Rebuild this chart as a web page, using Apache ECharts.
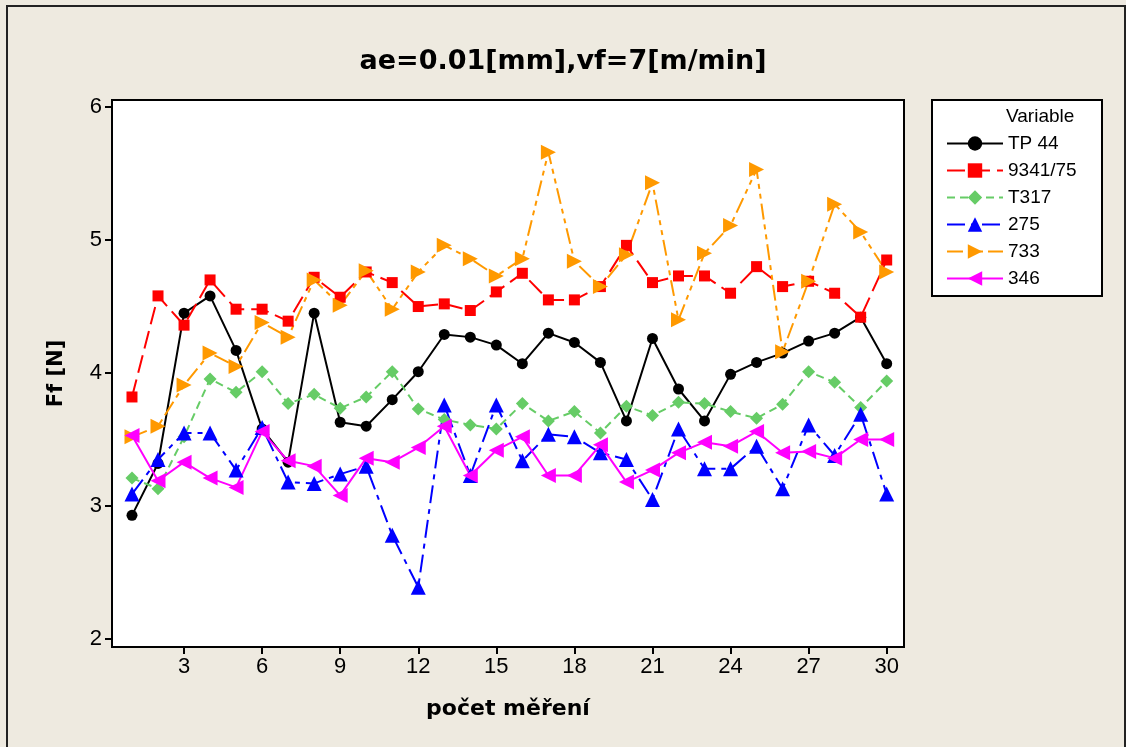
<!DOCTYPE html>
<html>
<head>
<meta charset="utf-8">
<script src="https://cdn.jsdelivr.net/npm/echarts@6/dist/echarts.min.js"></script>
<style>
  html, body { margin: 0; padding: 0; background: #EEEAE0; }
  #chart { width: 1126px; height: 747px; }
</style>
</head>
<body>
<div id="chart"></div>
<script>
// Measurement index (počet měření)
const measurement = [1, 2, 3, 4, 5, 6, 7, 8, 9, 10, 11, 12, 13, 14, 15,
                     16, 17, 18, 19, 20, 21, 22, 23, 24, 25, 26, 27, 28, 29, 30];

// Ff [N] per tool / variable
const tp44 = [2.93, 3.32, 4.45, 4.58, 4.17, 3.58, 3.33, 4.45, 3.63, 3.60,
              3.80, 4.01, 4.29, 4.27, 4.21, 4.07, 4.30, 4.23, 4.08, 3.64,
              4.26, 3.88, 3.64, 3.99, 4.08, 4.15, 4.24, 4.30, 4.42, 4.07];
const v9341_75 = [3.82, 4.58, 4.36, 4.70, 4.48, 4.48, 4.39, 4.72, 4.57, 4.76,
                  4.68, 4.50, 4.52, 4.47, 4.61, 4.75, 4.55, 4.55, 4.65, 4.96,
                  4.68, 4.73, 4.73, 4.60, 4.80, 4.65, 4.69, 4.60, 4.42, 4.85];
const t317 = [3.21, 3.13, 3.52, 3.955, 3.855, 4.01, 3.77, 3.84, 3.735, 3.82,
              4.01, 3.73, 3.65, 3.61, 3.58, 3.77, 3.64, 3.71, 3.55, 3.75,
              3.68, 3.78, 3.77, 3.71, 3.66, 3.765, 4.01, 3.93, 3.74, 3.94];
const v275 = [3.09, 3.35, 3.55, 3.55, 3.27, 3.59, 3.18, 3.17, 3.24, 3.30,
              2.78, 2.39, 3.76, 3.23, 3.76, 3.34, 3.54, 3.52, 3.40, 3.35,
              3.05, 3.58, 3.28, 3.28, 3.45, 3.13, 3.61, 3.38, 3.69, 3.09];
const v733 = [3.52, 3.60, 3.91, 4.15, 4.05, 4.38, 4.27, 4.70, 4.51, 4.77,
              4.48, 4.76, 4.96, 4.86, 4.73, 4.86, 5.66, 4.84, 4.65, 4.89,
              5.43, 4.40, 4.90, 5.11, 5.53, 4.16, 4.69, 5.27, 5.06, 4.76];
const v346 = [3.53, 3.19, 3.33, 3.21, 3.14, 3.56, 3.34, 3.30, 3.08, 3.36,
              3.33, 3.44, 3.60, 3.23, 3.42, 3.52, 3.23, 3.23, 3.46, 3.18,
              3.27, 3.40, 3.48, 3.45, 3.56, 3.40, 3.41, 3.36, 3.50, 3.50];

// Axis ticks
const xTicks = [3, 6, 9, 12, 15, 18, 21, 24, 27, 30];
const yTicks = [2, 3, 4, 5, 6];

const seriesDefs = [
  { name: 'TP 44',   data: tp44,     color: '#000000', symbol: 'circle',   size: 11, rotate: 0,   dash: 'solid' },
  { name: '9341/75', data: v9341_75, color: '#FF0000', symbol: 'rect',     size: 11, rotate: 0,   dash: [18, 7] },
  { name: 'T317',    data: t317,     color: '#66CC66', symbol: 'diamond',  size: 13, rotate: 0,   dash: [8, 5] },
  { name: '275',     data: v275,     color: '#0000FF', symbol: 'triangle', size: 15, rotate: 0,   dash: [18, 6, 5, 6] },
  { name: '733',     data: v733,     color: '#FF9900', symbol: 'triangle', size: 15, rotate: -90, dash: [16, 5, 5, 5, 5, 5] },
  { name: '346',     data: v346,     color: '#FF00FF', symbol: 'triangle', size: 15, rotate: 90,  dash: 'solid' }
];

const tickFont = 'Liberation Sans, Arial, sans-serif';
const boldFont = 'DejaVu Sans, Verdana, sans-serif';

const chart = echarts.init(document.getElementById('chart'), null, { renderer: 'canvas' });

chart.setOption({
  backgroundColor: '#EEEAE0',
  animation: false,
  title: {
    text: 'ae=0.01[mm],vf=7[m/min]',
    left: 'center',
    top: 43,
    textStyle: { fontFamily: boldFont, fontWeight: 'bold', fontSize: 27, color: '#000' }
  },
  grid: {
    left: 112, top: 100, width: 792, height: 547,
    show: true, backgroundColor: '#FFFFFF', borderColor: '#000', borderWidth: 2
  },
  legend: {
    orient: 'vertical',
    left: 941,
    top: 129,
    itemWidth: 56,
    itemHeight: 18,
    itemGap: 8,
    itemTextGap: 9,
    selectedMode: false,
    textStyle: { fontFamily: tickFont, fontSize: 19, color: '#000' },
    data: seriesDefs.map(s => s.name)
  },
  graphic: [
    { type: 'rect', shape: { x: 7, y: 6, width: 1118, height: 800 },
      style: { fill: 'none', stroke: '#222', lineWidth: 2 }, silent: true },
    { type: 'rect', shape: { x: 932, y: 100, width: 170, height: 196 },
      style: { fill: '#FFFFFF', stroke: '#000', lineWidth: 2 }, z: -1, silent: true },
    { type: 'text', left: 1006, top: 107,
      style: { text: 'Variable', fontFamily: tickFont, fontSize: 19, fill: '#000' } }
  ],
  xAxis: {
    type: 'value',
    min: 0.232,
    max: 30.665,
    name: 'počet měření',
    nameLocation: 'middle',
    nameGap: 51,
    nameTextStyle: { fontFamily: boldFont, fontWeight: 'bold', fontSize: 22, color: '#000' },
    axisLine: { show: true, lineStyle: { color: '#000', width: 2 } },
    axisTick: { show: true, customValues: xTicks, length: 7, inside: false, lineStyle: { color: '#000', width: 2 } },
    axisLabel: { customValues: xTicks, fontFamily: tickFont, fontSize: 22, color: '#000', margin: 9 },
    splitLine: { show: false }
  },
  yAxis: {
    type: 'value',
    min: 1.94,
    max: 6.053,
    name: 'Ff [N]',
    nameLocation: 'middle',
    nameGap: 45,
    nameRotate: 90,
    nameTextStyle: { fontFamily: boldFont, fontWeight: 'bold', fontSize: 21, color: '#000' },
    axisLine: { show: true, lineStyle: { color: '#000', width: 2 } },
    axisTick: { show: true, customValues: yTicks, length: 7, inside: false, lineStyle: { color: '#000', width: 2 } },
    axisLabel: { customValues: yTicks, fontFamily: tickFont, fontSize: 22, color: '#000', margin: 10 },
    splitLine: { show: false }
  },
  series: seriesDefs.map(s => ({
    name: s.name,
    type: 'line',
    data: measurement.map((m, i) => [m, s.data[i]]),
    symbol: s.symbol,
    symbolSize: s.size,
    symbolRotate: s.rotate,
    showSymbol: true,
    itemStyle: { color: s.color },
    lineStyle: { color: s.color, width: 2, type: s.dash },
    emphasis: { disabled: true }
  }))
});
</script>
</body>
</html>
